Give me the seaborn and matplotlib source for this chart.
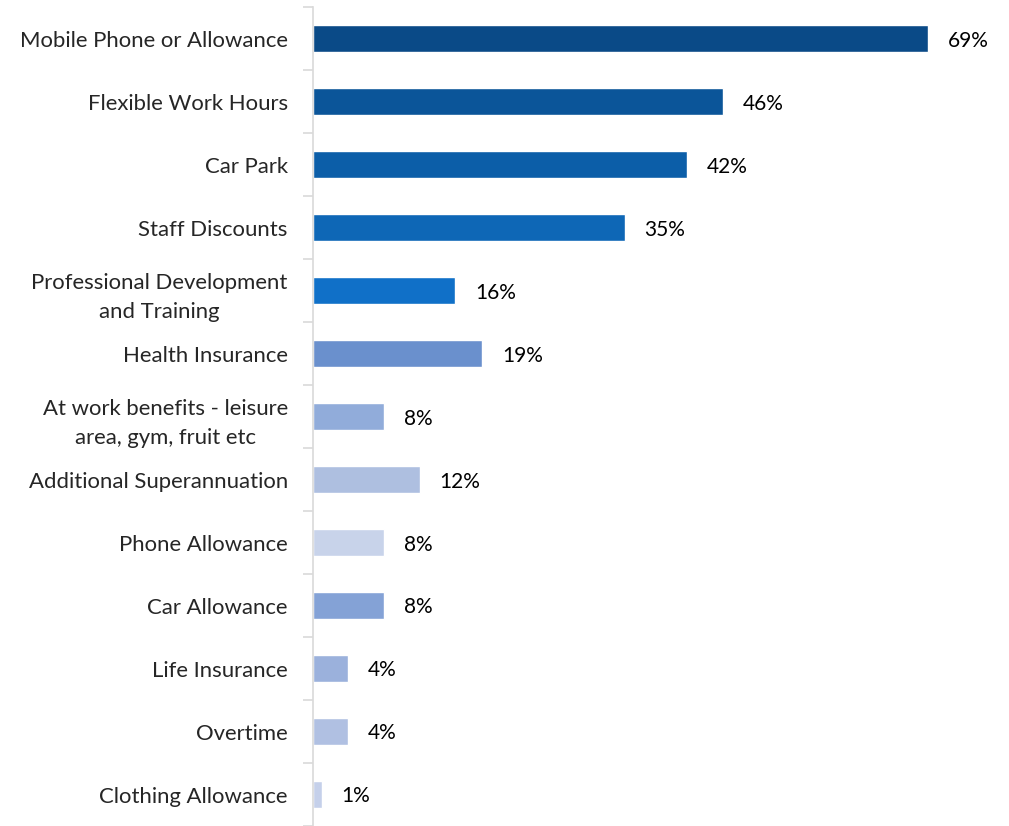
import matplotlib
matplotlib.use("Agg")
import matplotlib.pyplot as plt
import seaborn as sns
import pandas as pd
import numpy as np

# data
categories = [
    "Mobile Phone or Allowance",
    "Flexible Work Hours",
    "Car Park",
    "Staff Discounts",
    "Professional Development\nand Training",
    "Health Insurance",
    "At work benefits - leisure\narea, gym, fruit etc",
    "Additional Superannuation",
    "Phone Allowance",
    "Car Allowance",
    "Life Insurance",
    "Overtime",
    "Clothing Allowance",
]
values = [69, 46, 42, 35, 16, 19, 8, 12, 8, 8, 4, 4, 1]
bar_colors = [
    "#0a4a87", "#0b5599", "#0c5ea8", "#0e67b6", "#1070c8",
    "#6a90cd", "#91acda", "#aebfe0", "#c8d3ea", "#84a2d6",
    "#9bb1dc", "#b0c0e2", "#c5d0ea",
]

df = pd.DataFrame({"benefit": categories, "pct": values})

sns.set_style("white")
plt.rcParams["font.family"] = ["Lato", "DejaVu Sans"]

fig = plt.figure(figsize=(10.09, 8.26), dpi=100)
ax = fig.add_axes([0.310, 0.0, 0.690, (826 - 7.4) / 826])

sns.barplot(data=df, x="pct", y="benefit", hue="benefit", palette=bar_colors,
            order=categories, hue_order=categories, width=0.43,
            legend=False, ax=ax, saturation=1)

ax.set_xlim(0, 78.1)
ax.set_ylim(12.45, -0.5)
ax.set_xlabel("")
ax.set_ylabel("")
ax.set_xticks([])

for p, v in zip(ax.patches, values):
    ax.text(p.get_width() + 2.2, p.get_y() + p.get_height() / 2 + 0.03, f"{v}%",
            va="center", ha="left", fontsize=15, color="#000000")

# ticks between categories, labels without ticks
ax.set_yticks(range(len(categories)))
ax.set_yticklabels(categories, fontsize=15.9, ha="right", linespacing=1.6,
                   multialignment="center")
ax.tick_params(axis="y", which="major", length=0, pad=18)
ax.set_yticks(np.arange(-0.5, len(categories), 1), minor=True)
ax.tick_params(axis="y", which="minor", length=7, color="#d9d9d9", width=1.2,
               left=True, direction="out")

for s in ["top", "right", "bottom"]:
    ax.spines[s].set_visible(False)
ax.spines["left"].set_color("#d9d9d9")
ax.spines["left"].set_linewidth(1.2)

fig.savefig("out.png", dpi=100)
